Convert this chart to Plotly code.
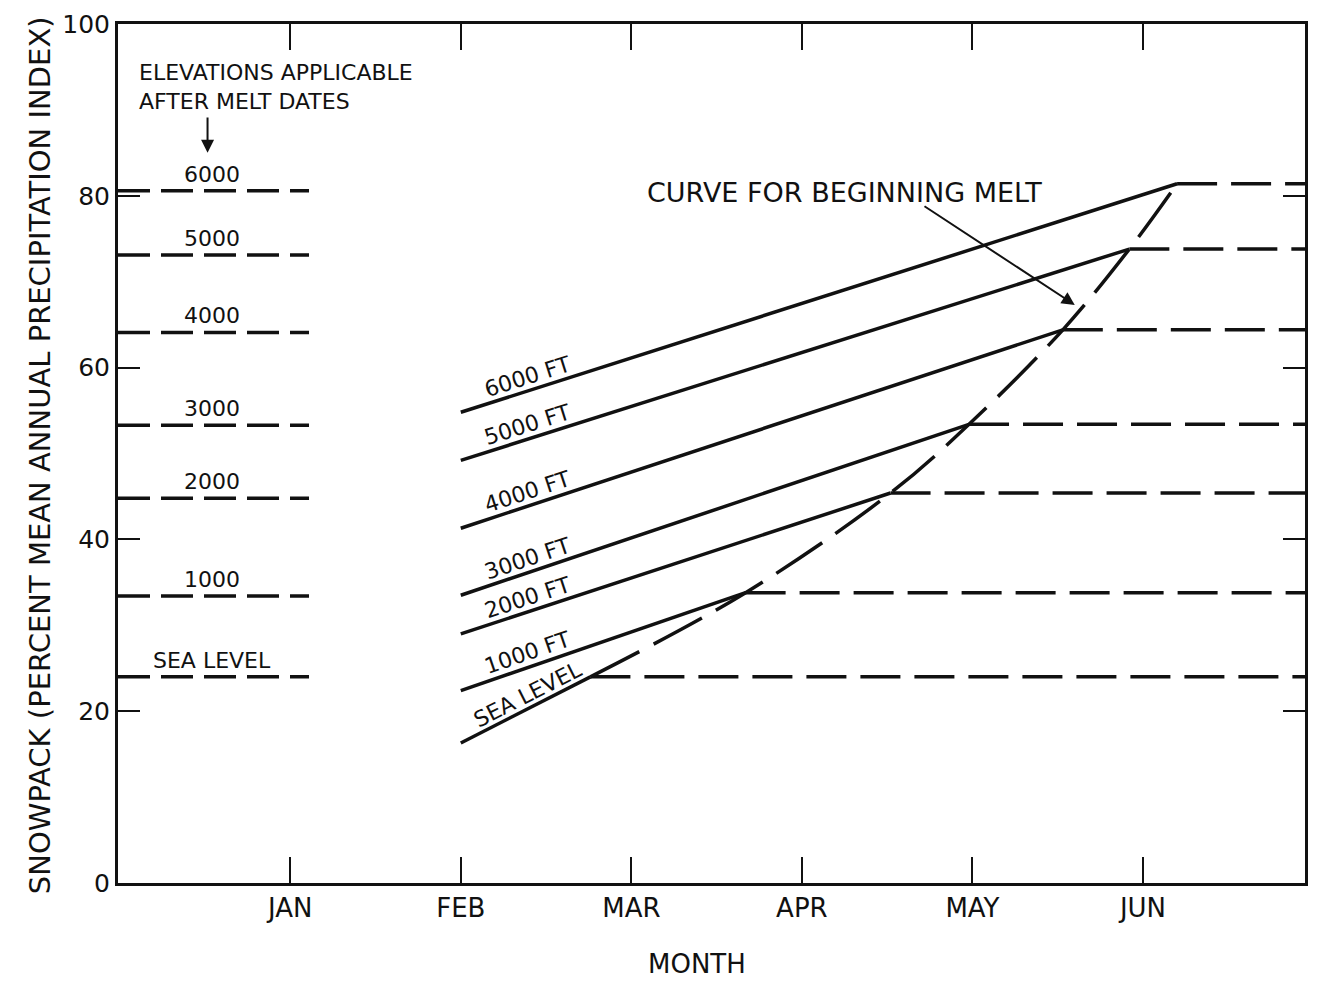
import math
import plotly.graph_objects as go

# ---------------- data ----------------
months = ["JAN", "FEB", "MAR", "APR", "MAY", "JUN"]
month_pos = [1, 2, 3, 4, 5, 6]
y_ticks = [0, 20, 40, 60, 80, 100]

elev_names = ["SEA LEVEL", "1000 FT", "2000 FT", "3000 FT", "4000 FT", "5000 FT", "6000 FT"]
start_x = [2.0, 2.0, 2.0, 2.0, 2.0, 2.0, 2.0]          # FEB
start_y = [16.3, 22.4, 29.0, 33.5, 41.3, 49.2, 54.8]
melt_x = [2.76, 3.67, 4.52, 4.98, 5.53, 5.92, 6.20]     # melt dates
melt_y = [24.0, 33.8, 45.4, 53.4, 64.4, 73.8, 81.4]

left_labels = ["SEA LEVEL", "1000", "2000", "3000", "4000", "5000", "6000"]
left_levels = [24.0, 33.4, 44.8, 53.3, 64.1, 73.1, 80.6]

X_MIN, X_MAX = -0.01, 6.95
Y_MIN, Y_MAX = 0, 100
LEFT_DASH_END = 1.11
LABEL_X = 2.37

FONT = "DejaVu Sans"
BLACK = "#111111"

# layout geometry (pixels); body margin removed via post_script
W, H = 1317, 982
ML, MR, MT, MB = 118, 9, 24, 99
PW = W - ML - MR
PH = H - MT - MB
px_x = PW / (X_MAX - X_MIN)
px_y = PH / (Y_MAX - Y_MIN)

fig = go.Figure()

# solid elevation lines (FEB -> melt date)
for sx, sy, mx, my in zip(start_x, start_y, melt_x, melt_y):
    fig.add_trace(go.Scatter(x=[sx, mx], y=[sy, my], mode="lines",
                             line=dict(color=BLACK, width=3.5), hoverinfo="skip"))

# dashed horizontal after melt
for mx, my in zip(melt_x, melt_y):
    fig.add_trace(go.Scatter(x=[mx, X_MAX], y=[my, my], mode="lines",
                             line=dict(color=BLACK, width=3.5, dash="40px,14px"),
                             hoverinfo="skip"))

# curve for beginning melt
fig.add_trace(go.Scatter(x=melt_x, y=melt_y, mode="lines",
                         line=dict(color=BLACK, width=3.5, dash="55px,16px", shape="spline", smoothing=1.0),
                         hoverinfo="skip"))

# left reference dashes
for lv in left_levels:
    fig.add_trace(go.Scatter(x=[X_MIN, LEFT_DASH_END], y=[lv, lv], mode="lines",
                             line=dict(color=BLACK, width=3.5, dash="32px,11px"),
                             hoverinfo="skip"))

annotations = []
for lab, lv in zip(left_labels, left_levels):
    annotations.append(dict(x=0.54, y=lv, xref="x", yref="y", text=lab, showarrow=False,
                            yanchor="bottom", yshift=2, font=dict(family=FONT, size=22, color=BLACK)))

# rotated labels along the lines
for name, sx, sy, mx, my in zip(elev_names, start_x, start_y, melt_x, melt_y):
    slope = (my - sy) / (mx - sx)
    ang = -math.degrees(math.atan(slope * px_y / px_x))
    ly = sy + slope * (LABEL_X - sx)
    annotations.append(dict(x=LABEL_X, y=ly, xref="x", yref="y", text=name, showarrow=False,
                            textangle=ang, yshift=16, xshift=4,
                            font=dict(family=FONT, size=22, color=BLACK)))

# explanatory text
annotations += [
    dict(x=0.10, y=94.3, xref="x", yref="y", text="ELEVATIONS APPLICABLE", showarrow=False,
         xanchor="left", font=dict(family=FONT, size=22, color=BLACK)),
    dict(x=0.10, y=91.0, xref="x", yref="y", text="AFTER MELT DATES", showarrow=False,
         xanchor="left", font=dict(family=FONT, size=22, color=BLACK)),
    dict(x=0.515, y=85.0, ax=0.515, ay=89.3, xref="x", yref="y", axref="x", ayref="y",
         text="", showarrow=True, arrowhead=2, arrowsize=1.3, arrowwidth=2, arrowcolor=BLACK),
    dict(x=4.25, y=80.4, xref="x", yref="y", text="CURVE FOR BEGINNING MELT", showarrow=False,
         font=dict(family=FONT, size=27, color=BLACK)),
    dict(x=5.60, y=67.3, ax=4.71, ay=78.9, xref="x", yref="y", axref="x", ayref="y",
         text="", showarrow=True, arrowhead=2, arrowsize=1.3, arrowwidth=2, arrowcolor=BLACK),
    dict(x=(40 - ML) / PW, y=(H - MB - 455) / PH, xref="paper", yref="paper",
         xanchor="center", yanchor="middle",
         text="SNOWPACK (PERCENT MEAN ANNUAL PRECIPITATION INDEX)", showarrow=False,
         textangle=-90, font=dict(family=FONT, size=29, color=BLACK)),
    dict(x=(698 - ML) / PW, y=(H - MB - 964) / PH, xref="paper", yref="paper", text="MONTH",
         xanchor="center", yanchor="middle",
         showarrow=False, font=dict(family=FONT, size=26, color=BLACK)),
]

fig.update_layout(
    width=W, height=H,
    margin=dict(l=ML, r=MR, t=MT, b=MB),
    paper_bgcolor="white", plot_bgcolor="white",
    showlegend=False,
    hovermode=False,
    annotations=annotations,
    xaxis=dict(range=[X_MIN, X_MAX], tickvals=month_pos, ticktext=months,
               ticks="inside", ticklen=26, tickwidth=2, tickcolor=BLACK,
               showline=True, linewidth=3, linecolor=BLACK, mirror="allticks",
               showgrid=False, zeroline=False,
               tickfont=dict(family=FONT, size=26, color=BLACK)),
    yaxis=dict(range=[Y_MIN, Y_MAX], tickvals=y_ticks,
               ticks="inside", ticklen=22, tickwidth=2, tickcolor=BLACK,
               showline=True, linewidth=3, linecolor=BLACK, mirror="allticks",
               showgrid=False, zeroline=False,
               tickfont=dict(family=FONT, size=25, color=BLACK)),
)

fig.write_html("out.html",
               config={"displayModeBar": False},
               post_script="document.body.style.margin='0px';document.body.style.overflow='hidden';")
